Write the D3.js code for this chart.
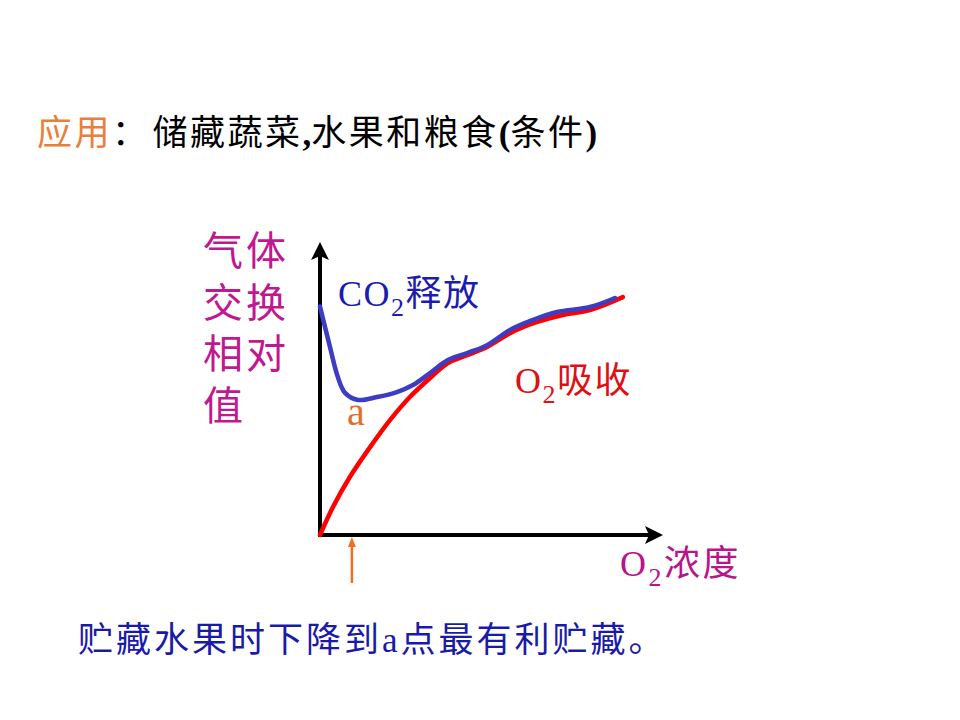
<!DOCTYPE html>
<html>
<head>
<meta charset="utf-8">
<script src="https://cdn.jsdelivr.net/npm/d3@7"></script>
<style>
  body { margin: 0; background: #fff; }
  text { font-family: "Liberation Serif", "Noto Sans CJK SC", serif; }
</style>
</head>
<body>
<div id="chart"></div>
<script>
var svgWidth = 960;
var svgHeight = 720;

// O2 concentration (relative, 0-100) and gas exchange relative value
var co2X = [0, 2.9, 5.2, 7.3, 11.1, 16.6, 22.4, 27.1, 32.1, 37.3, 42.9, 48.7, 55.4, 62.1, 69.1, 78.7, 86.0];
var co2Y = [78, 64.2, 53.9, 48.5, 46.1, 47.1, 48.8, 51.2, 55.3, 59.7, 62.1, 64.8, 70.0, 73.4, 76.1, 77.8, 80.9];
var o2X = [0, 3.8, 8.7, 14.6, 20.4, 26.2, 32.1, 37.3, 42.9, 48.7, 55.4, 63.3, 70.8, 78.7, 88.3];
var o2Y = [0, 9.6, 19.8, 30.0, 39.2, 47.1, 53.6, 58.7, 61.4, 64.2, 68.9, 72.7, 75.1, 76.8, 81.2];
var pointA = 9.3; // x of point a (lowest CO2 release)

var yLabelLines = ["气体", "交换", "相对", "值"];

var svg = d3.select("#chart")
  .append("svg")
  .attr("width", svgWidth)
  .attr("height", svgHeight);

var xScale = d3.scaleLinear().domain([0, 100]).range([320, 663]);
var yScale = d3.scaleLinear().domain([0, 100]).range([535, 242]);

// title
var title = svg.append("text")
  .attr("x", 37)
  .attr("y", 145)
  .attr("font-size", "35px")
  .attr("letter-spacing", "2.5px");
title.append("tspan").attr("fill", "#e8803c").text("应用");
title.append("tspan").attr("fill", "#000").text("：");
title.append("tspan").attr("fill", "#000").attr("dx", 3).text("储藏蔬菜");
title.append("tspan").attr("fill", "#000").attr("font-weight", "bold").attr("letter-spacing", "0px").text(",");
title.append("tspan").attr("fill", "#000").text("水果和粮食");
title.append("tspan").attr("fill", "#000").attr("font-weight", "bold").attr("letter-spacing", "0px").text("(");
title.append("tspan").attr("fill", "#000").text("条件");
title.append("tspan").attr("fill", "#000").attr("font-weight", "bold").text(")");

// axes
var xAxis = d3.axisBottom(xScale).ticks(0).tickSizeOuter(0);
var yAxis = d3.axisLeft(yScale).ticks(0).tickSizeOuter(0);

svg.append("g")
  .attr("transform", `translate(0, ${yScale(0)})`)
  .call(xAxis)
  .select(".domain")
  .attr("stroke", "#000")
  .attr("stroke-width", 4)
  .attr("d", `M${xScale(0) - 2},0H${xScale(100) - 12}`);

svg.append("g")
  .attr("transform", `translate(${xScale(0)}, 0)`)
  .call(yAxis)
  .select(".domain")
  .attr("stroke", "#000")
  .attr("stroke-width", 4)
  .attr("d", `M0,${yScale(0) + 2}V${yScale(100) + 12}`);

// arrow heads
var xe = xScale(100), y0 = yScale(0);
svg.append("path")
  .attr("d", `M${xe},${y0} L${xe - 18},${y0 - 9} L${xe - 14},${y0} L${xe - 18},${y0 + 9} Z`)
  .attr("fill", "#000");
var x0 = xScale(0), ye = yScale(100);
svg.append("path")
  .attr("d", `M${x0},${ye} L${x0 - 9},${ye + 18} L${x0},${ye + 14} L${x0 + 9},${ye + 18} Z`)
  .attr("fill", "#000");

// curves
var line = d3.line()
  .x(function (d) { return xScale(d[0]); })
  .y(function (d) { return yScale(d[1]); })
  .curve(d3.curveCatmullRom.alpha(0.5));

svg.append("path")
  .datum(d3.zip(o2X, o2Y))
  .attr("d", line)
  .attr("fill", "none")
  .attr("stroke", "#ff0000")
  .attr("stroke-width", 4.5)
  .attr("stroke-linecap", "round");

svg.append("path")
  .datum(d3.zip(co2X, co2Y))
  .attr("d", line)
  .attr("fill", "none")
  .attr("stroke", "#3c3cc4")
  .attr("stroke-width", 4.5)
  .attr("stroke-linecap", "round")
  .attr("stroke-linejoin", "round");

// y axis label
svg.append("g").selectAll("text")
  .data(yLabelLines)
  .enter()
  .append("text")
  .attr("x", 203)
  .attr("y", function (d, i) { return 265 + i * 51.5; })
  .attr("font-size", "40px")
  .attr("letter-spacing", "3px")
  .attr("fill", "#c01890")
  .text(function (d) { return d; });

// curve labels
var co2Label = svg.append("text")
  .attr("x", 338).attr("y", 306)
  .attr("font-size", "36px")
  .attr("letter-spacing", "1.5px")
  .attr("fill", "#1c1cb0");
co2Label.append("tspan").text("CO");
co2Label.append("tspan").attr("dy", 10).attr("font-size", "26px").text("2");
co2Label.append("tspan").attr("dy", -10).text("释放");

var o2Label = svg.append("text")
  .attr("x", 515).attr("y", 393)
  .attr("font-size", "36px")
  .attr("letter-spacing", "1.5px")
  .attr("fill", "#e01010");
o2Label.append("tspan").text("O");
o2Label.append("tspan").attr("dy", 10).attr("font-size", "26px").text("2");
o2Label.append("tspan").attr("dy", -10).text("吸收");

svg.append("text")
  .attr("x", xScale(pointA) - 5).attr("y", 425)
  .attr("font-size", "40px")
  .attr("fill", "#e07028")
  .text("a");

var xLabel = svg.append("text")
  .attr("x", 620).attr("y", 576)
  .attr("font-size", "36px")
  .attr("letter-spacing", "2.5px")
  .attr("fill", "#b8148c");
xLabel.append("tspan").text("O");
xLabel.append("tspan").attr("dy", 10).attr("font-size", "26px").text("2");
xLabel.append("tspan").attr("dy", -10).text("浓度");

// arrow pointing at a
var ax = xScale(pointA);
svg.append("line")
  .attr("x1", ax).attr("x2", ax)
  .attr("y1", 545).attr("y2", 583)
  .attr("stroke", "#f07020")
  .attr("stroke-width", 2.5);
svg.append("path")
  .attr("d", `M${ax},${537} L${ax - 4},${547} L${ax + 4},${547} Z`)
  .attr("fill", "#f07020");

// conclusion
svg.append("text")
  .attr("x", 78).attr("y", 652)
  .attr("font-size", "35px")
  .attr("letter-spacing", "3px")
  .attr("fill", "#1a1aa8")
  .text("贮藏水果时下降到a点最有利贮藏。");
</script>
</body>
</html>
